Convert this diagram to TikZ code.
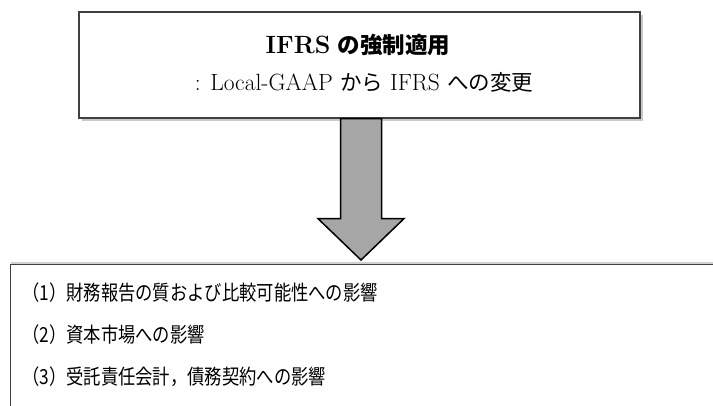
\documentclass[tikz,border=0pt]{standalone}
\usepackage{fontspec}
\newfontfamily\jp{Noto Sans CJK JP}
\usetikzlibrary{shadows,calc}
\tikzset{
  box/.style={draw=black!75, line width=1.2pt, fill=white, rectangle, inner sep=0pt},
  topshadow/.style={drop shadow={shadow xshift=3pt, shadow yshift=-3pt, opacity=0.35, fill=black!60}},
  botshadow/.style={drop shadow={shadow xshift=0pt, shadow yshift=3pt, opacity=0.3, fill=black!60}},
  bigarrow/.style={draw=black, line width=1.5pt, fill=black!35, line join=miter},
  line/.style={font=\fontsize{17.3}{20}\selectfont, anchor=west, inner sep=0pt}
}
\newcommand{\vstretch}[1]{\scalebox{1}[1.2]{#1}}
\begin{document}
\begin{tikzpicture}[x=1pt,y=-1pt]
\useasboundingbox (0,0) rectangle (713,405);
\clip (0,0) rectangle (713,405);
\fill[white] (0,0) rectangle (713,405);
% top box
\node[box, topshadow, minimum width=561pt, minimum height=106pt] (top) at (359.5,65) {};
\node[font=\fontsize{25}{28}\selectfont, inner sep=0pt] (title) at (358,45)
  {\bfseries IFRS\hspace{-2pt} {\jp\bfseries\fontsize{22.5}{24}\selectfont の強制適用}};
\node[font=\fontsize{23.5}{28}\selectfont, inner sep=0pt] (sub) at (364,82)
  {: Local-GAAP {\jp\fontsize{21.5}{24}\selectfont から} IFRS {\jp\fontsize{21.5}{24}\selectfont への変更}};
% bottom box
\node[box, botshadow, anchor=north west, minimum width=760pt, minimum height=180pt] (bot) at (10,264) {};
\node[line] (l1) at (22,293) {\vstretch{\jp （1）財務報告の質および比較可能性への影響}};
\node[line] (l2) at (22,335) {\vstretch{\jp （2）資本市場への影響}};
\node[line] (l3) at (22,377) {\vstretch{\jp （3）受託責任会計，債務契約への影響}};
% arrow
\coordinate (as) at ($(top.south)+(1.5,0)$);
\draw[bigarrow] ($(as)+(-20.5,0)$) -- ($(as)+(20.5,0)$) -- ($(as)+(20.5,100)$)
  -- ($(as)+(43,100)$) -- ($(bot.north west)!(as)!(bot.north east)+(0,-4)$)
  -- ($(as)+(-43,100)$) -- ($(as)+(-20.5,100)$) -- cycle;
\end{tikzpicture}
\end{document}
